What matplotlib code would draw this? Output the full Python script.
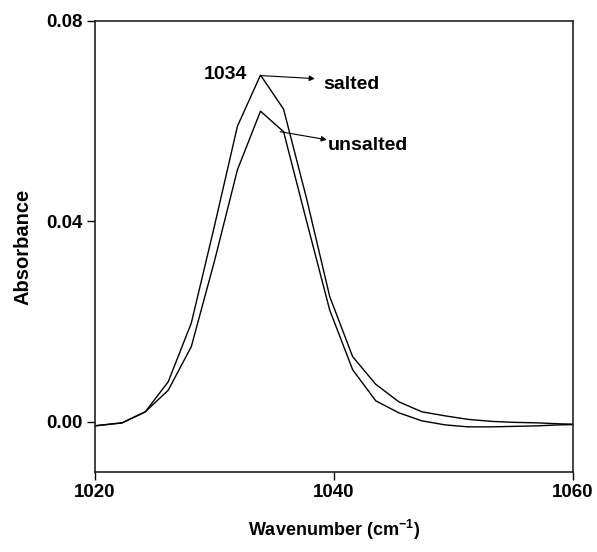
import numpy as np
import matplotlib
matplotlib.use('Agg')
import matplotlib.pyplot as plt

plt.rcParams['font.family'] = ['Liberation Sans', 'DejaVu Sans']
plt.rcParams['font.weight'] = 'bold'
plt.rcParams['mathtext.fontset'] = 'custom'
plt.rcParams['mathtext.rm'] = 'Liberation Sans:bold'
plt.rcParams['mathtext.bf'] = 'Liberation Sans:bold'

# FTIR spectra
wavenumber = [1018.42, 1020.35, 1022.28, 1024.21, 1026.13, 1028.06, 1029.99,
              1031.92, 1033.85, 1035.78, 1037.71, 1039.64, 1041.56, 1043.49,
              1045.42, 1047.35, 1049.28, 1051.20, 1053.13, 1055.06, 1056.99,
              1058.92, 1060.85]
salted = [-0.0012, -0.0007, -0.0002, 0.0020, 0.0080, 0.0197, 0.0390,
          0.0590, 0.0692, 0.0624, 0.0445, 0.0250, 0.0130, 0.0075,
          0.0040, 0.0020, 0.0012, 0.0005, 0.0001, -0.0001, -0.0002,
          -0.0004, -0.0005]
unsalted = [-0.0012, -0.0007, -0.0002, 0.0020, 0.0063, 0.0150, 0.0320,
            0.0503, 0.0620, 0.0579, 0.0400, 0.0223, 0.0104, 0.0042,
            0.0018, 0.0002, -0.0006, -0.0010, -0.0010, -0.0009, -0.0008,
            -0.0006, -0.0005]

xticks = [1020, 1040, 1060]
yticks = [0.00, 0.04, 0.08]

fig = plt.figure(figsize=(5.97, 5.52), dpi=100)
ax = fig.add_axes([0.159, 0.145, 0.801, 0.817])

ax.plot(wavenumber, salted, color='black', lw=1.0)
ax.plot(wavenumber, unsalted, color='black', lw=1.0)

ax.set_xlim(1020, 1060)
ax.set_ylim(-0.01, 0.08)
ax.set_xticks(xticks)
ax.set_yticks(yticks)
ax.set_xticklabels([str(t) for t in xticks], fontsize=13.5, fontweight='bold')
ax.set_yticklabels(['%.2f' % t for t in yticks], fontsize=13.5, fontweight='bold')
ax.tick_params(direction='out', length=6, width=1, pad=3)
for sp in ax.spines.values():
    sp.set_linewidth(1.2)
    sp.set_color('#222222')

ax.set_xlabel(r'Wavenumber (cm$^{\mathbf{-1}}$)', fontsize=13, fontweight='bold', labelpad=12)
ax.set_ylabel('Absorbance', fontsize=14.5, fontweight='bold', labelpad=10)

arrow = dict(arrowstyle='-|>', color='black', lw=0.8, mutation_scale=8,
             shrinkA=0, shrinkB=0)

# peak labels
ax.text(1032.7, 0.0693, '1034', fontsize=14, fontweight='bold', ha='right', va='center')
ax.annotate('', xy=(1038.4, 0.0685), xytext=(1033.9, 0.0691), arrowprops=arrow)
ax.text(1039.1, 0.0674, 'salted', fontsize=14, fontweight='bold', ha='left', va='center')
ax.annotate('', xy=(1039.4, 0.0563), xytext=(1035.5, 0.0579), arrowprops=arrow)
ax.text(1039.5, 0.0551, 'unsalted', fontsize=14, fontweight='bold', ha='left', va='center')

fig.savefig('out.png', dpi=100)
